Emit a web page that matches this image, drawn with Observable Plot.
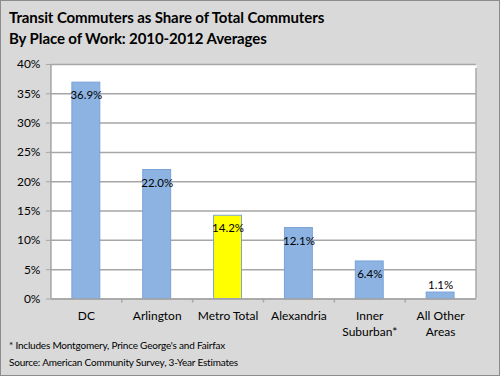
<!DOCTYPE html>
<html>
<head>
<meta charset="utf-8">
<script src="https://cdn.jsdelivr.net/npm/d3@7"></script>
<script src="https://cdn.jsdelivr.net/npm/@observablehq/plot@0.6"></script>
<style>
  html, body { margin: 0; padding: 0; background: #d9d9d9; }
  #frame {
    position: relative; width: 498px; height: 374px;
    border: 1px solid #8c8c8c; background: #d9d9d9; overflow: hidden;
    font-family: Lato, "Open Sans", sans-serif; color: #000;
  }
  #title {
    position: absolute; left: 8px; top: 6px;
    font-weight: bold; font-size: 15px; line-height: 21px; letter-spacing: -0.1px;
  }
  #chart { position: absolute; left: -1px; top: 49px; }
  .note { position: absolute; left: 8px; font-size: 10px; letter-spacing: -0.2px; }
</style>
</head>
<body>
<div id="frame">
  <div id="title">Transit Commuters as Share of Total Commuters<br>By Place of Work: 2010-2012 Averages</div>
  <div id="chart"></div>
  <div class="note" style="top:338px">* Includes Montgomery, Prince George's and Fairfax</div>
  <div class="note" style="top:355px">Source: American Community Survey, 3-Year Estimates</div>
</div>
<script>
const categories = ["DC", "Arlington", "Metro Total", "Alexandria", "Inner Suburban*", "All Other Areas"];
const tickLabels = ["DC", "Arlington", "Metro Total", "Alexandria", "Inner\nSuburban*", "All Other\nAreas"];
const values = [0.369, 0.220, 0.142, 0.121, 0.064, 0.011];
const labels = ["36.9%", "22.0%", "14.2%", "12.1%", "6.4%", "1.1%"];
const highlight = ["Metro Total"];
const yTicks = [0, 0.05, 0.10, 0.15, 0.20, 0.25, 0.30, 0.35, 0.40];

const data = categories.map((c, i) => ({ category: c, value: values[i], label: labels[i], tick: tickLabels[i] }));

const W = 500, H = 290, ML = 51, MR = 23, MT = 14, MB = 41;
const step = (W - ML - MR) / categories.length;

const chart = Plot.plot({
  width: W, height: H,
  marginLeft: ML, marginRight: MR, marginTop: MT, marginBottom: MB,
  style: { background: "transparent", fontFamily: "Lato, 'Open Sans', sans-serif", fontSize: "12px", color: "#000" },
  x: { domain: categories, paddingInner: 0.6, paddingOuter: 0.3, label: null },
  y: { domain: [0, 0.40], label: null },
  marks: [
    Plot.frame({ fill: "white", stroke: null }),
    Plot.gridY(yTicks, { stroke: "#a6a6a6", strokeOpacity: 1, strokeWidth: 1.5 }),
    Plot.ruleX([categories[categories.length - 1]], { dx: step / 2, y1: 0, y2: 0.40, stroke: "#a6a6a6", strokeWidth: 1.5, insetBottom: -4 }),
    Plot.ruleX([categories[0]], { dx: -step / 2, y1: 0, y2: 0.40, stroke: "#a6a6a6", strokeWidth: 1.5 }),
    Plot.ruleX(categories.slice(1), { dx: -step / 2, y1: 0, y2: 0, stroke: "#a6a6a6", strokeWidth: 1.5, insetBottom: -4 }),
    Plot.barY(data, {
      x: "category", y: "value",
      fill: d => highlight.includes(d.category) ? "#ffff00" : "#8db3e2",
      stroke: "#7aa3d8", strokeWidth: 1
    }),
    Plot.ruleY([0], { stroke: "#a6a6a6", strokeWidth: 1.5 }),
    Plot.text(data.filter(d => d.value >= 0.03), { x: "category", y: "value", text: "label", dy: 13, fontSize: 11.5, fill: "#000" }),
    Plot.text(data.filter(d => d.value < 0.03), { x: "category", y: "value", text: "label", dy: -7, fontSize: 11.5, fill: "#000" }),
    Plot.axisY({ ticks: yTicks, tickFormat: d3.format(".0%"), tickSize: 5, tickPadding: 6, stroke: "#a6a6a6", fontSize: 12 }),
    Plot.axisX({ tickSize: 0, tickPadding: 10, tickFormat: d => tickLabels[categories.indexOf(d)], fontSize: 12, lineHeight: 1.3 })
  ]
});
document.getElementById("chart").appendChild(chart);
</script>
</body>
</html>
